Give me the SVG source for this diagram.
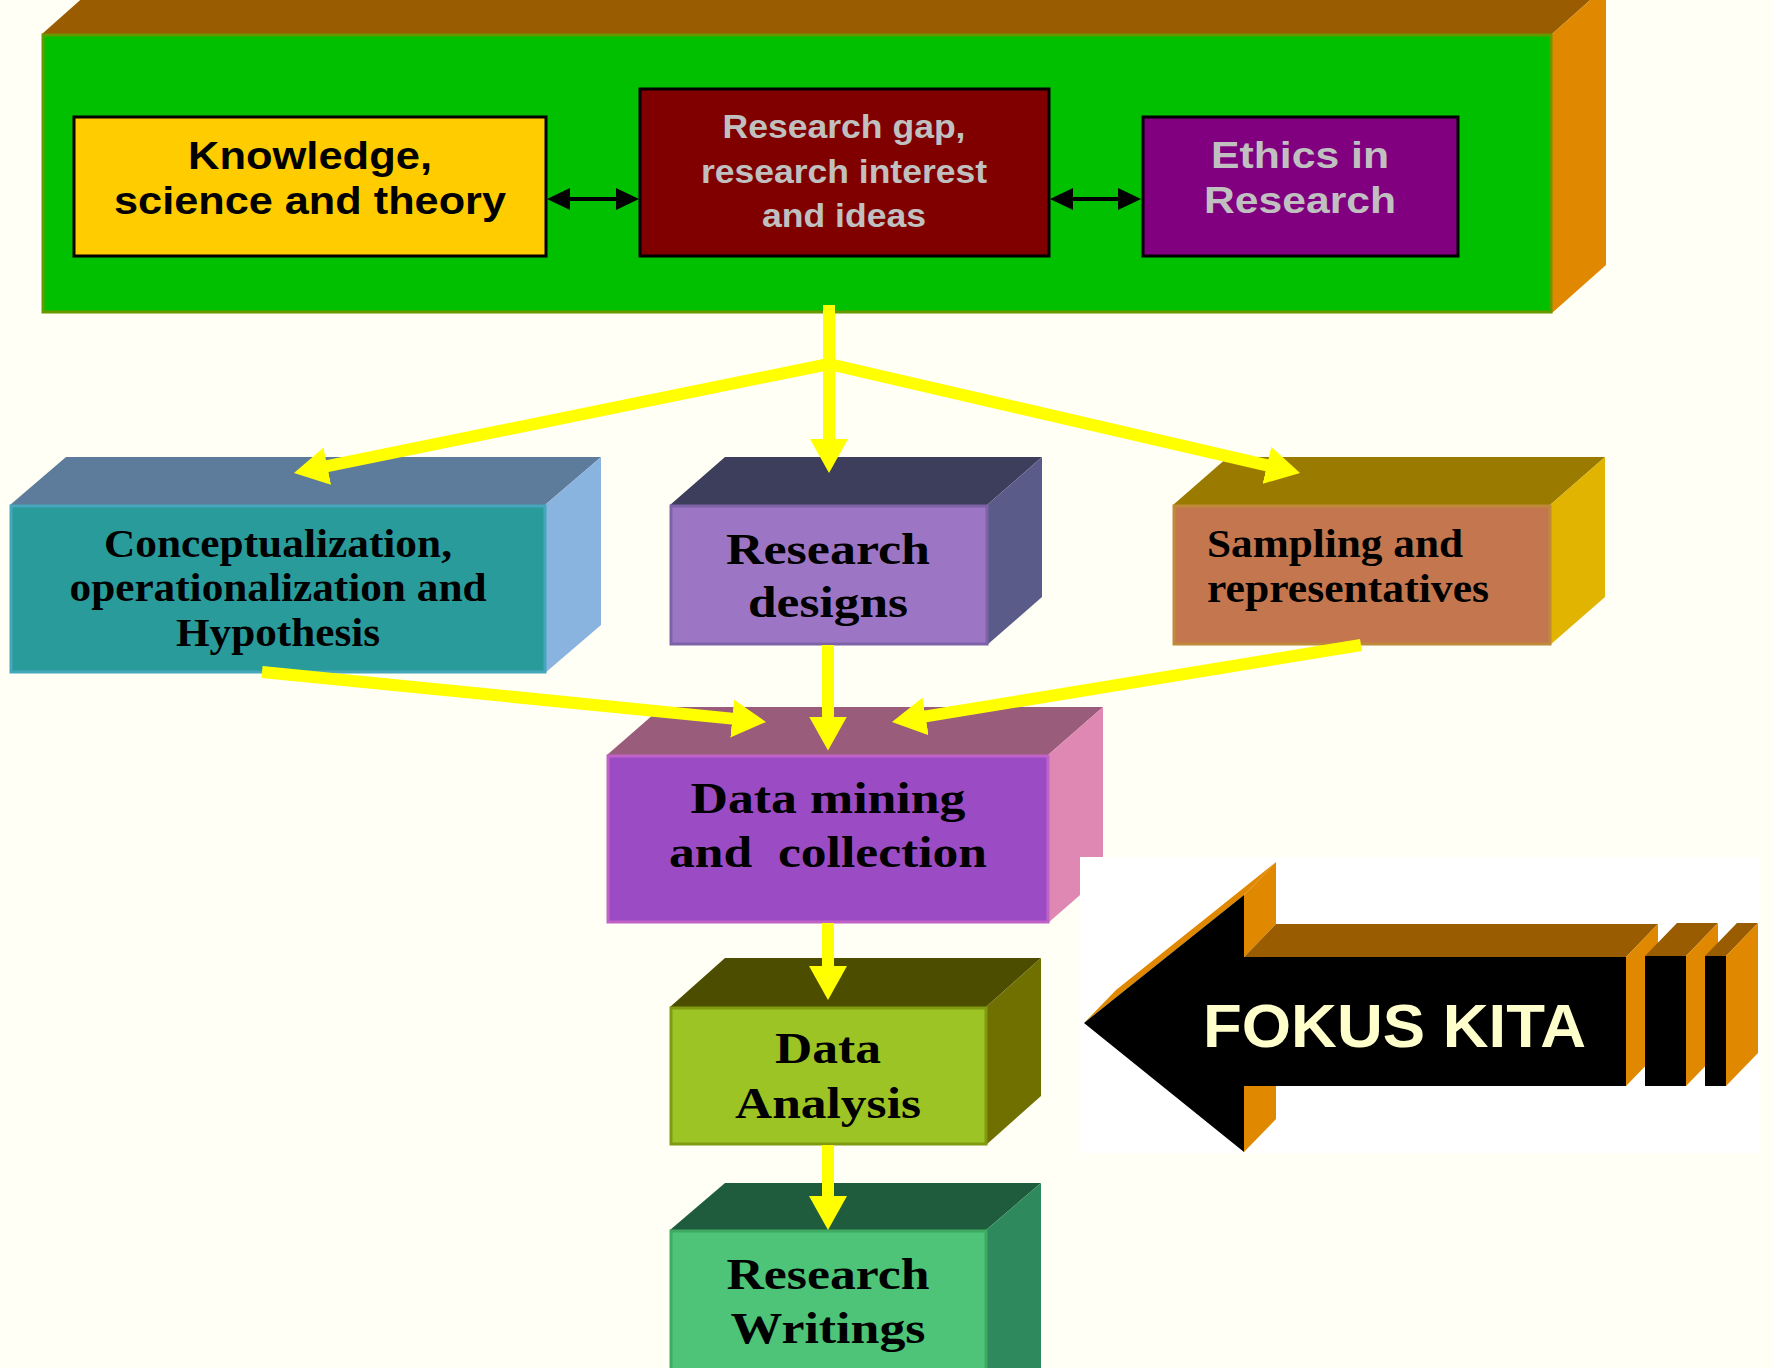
<svg xmlns="http://www.w3.org/2000/svg" width="1773" height="1368" viewBox="0 0 1773 1368">
<defs>
<style>
.sans{font-family:"Liberation Sans",Arial,sans-serif;font-weight:bold;text-anchor:middle}
.serif{font-family:"Liberation Serif","Times New Roman",serif;font-weight:bold;text-anchor:middle;fill:#000}
.yl{stroke:#FFFF00;stroke-width:12;fill:none;marker-end:url(#ya)}
.bl{stroke:#000;stroke-width:4;fill:none;marker-start:url(#bs);marker-end:url(#be)}
.inbox{stroke:#000;stroke-width:3}
</style>
<marker id="ya" viewBox="0 0 34 38" refX="20" refY="19" markerWidth="34" markerHeight="38" markerUnits="userSpaceOnUse" orient="auto"><path d="M0,0 L34,19 L0,38 z" fill="#FFFF00"/></marker>
<marker id="be" viewBox="0 0 23 22" refX="15" refY="11" markerWidth="23" markerHeight="22" markerUnits="userSpaceOnUse" orient="auto"><path d="M0,0 L23,11 L0,22 z" fill="#000"/></marker>
<marker id="bs" viewBox="0 0 23 22" refX="8" refY="11" markerWidth="23" markerHeight="22" markerUnits="userSpaceOnUse" orient="auto"><path d="M23,0 L0,11 L23,22 z" fill="#000"/></marker>
</defs>
<rect x="0" y="0" width="1773" height="1368" fill="#FFFFF5"/>

<g id="top-block">
<polygon points="42,34 96,-14 1606,-14 1552,34" fill="#9A5C00"/>
<polygon points="1552,34 1606,-14 1606,265 1552,313" fill="#E08800"/>
<rect x="43" y="35" width="1508" height="277" fill="#00C000" stroke="#669900" stroke-width="3"/>
</g>

<g id="knowledge">
<rect class="inbox" x="74" y="117" width="472" height="139" fill="#FFCC00"/>
<text class="sans" font-size="39" fill="#000"><tspan x="310" y="169" textLength="244" lengthAdjust="spacingAndGlyphs">Knowledge,</tspan><tspan x="310" y="214" textLength="392" lengthAdjust="spacingAndGlyphs">science and theory</tspan></text>
</g>

<g id="research-gap">
<rect class="inbox" x="640" y="89" width="409" height="167" fill="#800000"/>
<text class="sans" font-size="32.5" fill="#C0C0C0"><tspan x="844" y="138" textLength="243" lengthAdjust="spacingAndGlyphs">Research gap,</tspan><tspan x="844" y="183" textLength="286" lengthAdjust="spacingAndGlyphs">research interest</tspan><tspan x="844" y="227" textLength="164" lengthAdjust="spacingAndGlyphs">and ideas</tspan></text>
</g>

<g id="ethics">
<rect class="inbox" x="1143" y="117" width="315" height="139" fill="#800080"/>
<text class="sans" font-size="37.5" fill="#C0C0C0"><tspan x="1300" y="168" textLength="178" lengthAdjust="spacingAndGlyphs">Ethics in</tspan><tspan x="1300" y="213" textLength="192" lengthAdjust="spacingAndGlyphs">Research</tspan></text>
</g>

<g id="conceptualization">
<polygon points="10,505 66,457 601,457 545,505" fill="#5D7B9A"/>
<polygon points="545,505 601,457 601,625 545,673" fill="#8AB4E0"/>
<rect x="11" y="506" width="534" height="166" fill="#2A9B9B" stroke="#45A6BC" stroke-width="3"/>
<text class="serif" font-size="39"><tspan x="278" y="557" textLength="348" lengthAdjust="spacingAndGlyphs">Conceptualization,</tspan><tspan x="278" y="601" textLength="417" lengthAdjust="spacingAndGlyphs">operationalization and</tspan><tspan x="278" y="646" textLength="204" lengthAdjust="spacingAndGlyphs">Hypothesis</tspan></text>
</g>

<g id="research-designs">
<polygon points="670,505 725,457 1042,457 987,505" fill="#3D3D5C"/>
<polygon points="987,505 1042,457 1042,597 987,645" fill="#5B5B8A"/>
<rect x="671" y="506" width="316" height="138" fill="#9C76C4" stroke="#7E62A8" stroke-width="3"/>
<text class="serif" font-size="44"><tspan x="828" y="564" textLength="204" lengthAdjust="spacingAndGlyphs">Research</tspan><tspan x="828" y="617" textLength="160" lengthAdjust="spacingAndGlyphs">designs</tspan></text>
</g>

<g id="sampling">
<polygon points="1173,505 1228,457 1605,457 1550,505" fill="#9A7B00"/>
<polygon points="1550,505 1605,457 1605,597 1550,645" fill="#E0B400"/>
<rect x="1174" y="506" width="376" height="138" fill="#C4774E" stroke="#C08A3A" stroke-width="3"/>
<text class="serif" font-size="39" style="text-anchor:start"><tspan x="1207" y="557" textLength="256" lengthAdjust="spacingAndGlyphs">Sampling and</tspan><tspan x="1207" y="602" textLength="282" lengthAdjust="spacingAndGlyphs">representatives</tspan></text>
</g>

<g id="data-mining">
<polygon points="607,755 662,707 1103,707 1048,755" fill="#9A5C7B"/>
<polygon points="1048,755 1103,707 1103,875 1048,923" fill="#E088B4"/>
<rect x="608" y="756" width="440" height="166" fill="#9B4CC4" stroke="#C062C8" stroke-width="3"/>
<text class="serif" font-size="44" xml:space="preserve"><tspan x="828" y="813" textLength="275" lengthAdjust="spacingAndGlyphs">Data mining</tspan><tspan x="828" y="867" textLength="318" lengthAdjust="spacingAndGlyphs">and  collection</tspan></text>
</g>

<g id="data-analysis">
<polygon points="670,1007 725,958 1041,958 986,1007" fill="#4D4D00"/>
<polygon points="986,1007 1041,958 1041,1096 986,1145" fill="#707000"/>
<rect x="671" y="1008" width="315" height="136" fill="#9DC425" stroke="#7F9A10" stroke-width="3"/>
<text class="serif" font-size="44"><tspan x="828" y="1063" textLength="106" lengthAdjust="spacingAndGlyphs">Data</tspan><tspan x="828" y="1118" textLength="186" lengthAdjust="spacingAndGlyphs">Analysis</tspan></text>
</g>

<g id="research-writings">
<polygon points="670,1230 725,1183 1041,1183 986,1230" fill="#1F5C3D"/>
<polygon points="986,1230 1041,1183 1041,1380 986,1380" fill="#2E8A5C"/>
<rect x="671" y="1231" width="315" height="150" fill="#4DC478" stroke="#3EAA62" stroke-width="3"/>
<text class="serif" font-size="44"><tspan x="828" y="1289" textLength="203" lengthAdjust="spacingAndGlyphs">Research</tspan><tspan x="828" y="1343" textLength="195" lengthAdjust="spacingAndGlyphs">Writings</tspan></text>
</g>

<g id="fokus-kita">
<rect x="1080" y="857" width="680" height="296" fill="#FFFFFF"/>
<polygon points="1084,1023 1244,895 1276,862 1116,990" fill="#E08800"/>
<polygon points="1244,895 1276,862 1276,924 1244,957" fill="#E08800"/>
<polygon points="1244,957 1276,924 1658,924 1626,957" fill="#9A5C00"/>
<polygon points="1626,957 1658,924 1658,1053 1626,1086" fill="#E08800"/>
<polygon points="1244,1086 1276,1053 1276,1119 1244,1152" fill="#E08800"/>
<polygon points="1084,1023 1244,895 1244,957 1626,957 1626,1086 1244,1086 1244,1152" fill="#000"/>
<polygon points="1645,956 1677,923 1718,923 1686,956" fill="#9A5C00"/>
<polygon points="1686,956 1718,923 1718,1053 1686,1086" fill="#E08800"/>
<rect x="1645" y="956" width="41" height="130" fill="#000"/>
<polygon points="1705,956 1737,923 1758,923 1726,956" fill="#9A5C00"/>
<polygon points="1726,956 1758,923 1758,1053 1726,1086" fill="#E08800"/>
<rect x="1705" y="956" width="21" height="130" fill="#000"/>
<text class="sans" x="1203" y="1047" font-size="62" fill="#FFFFCC" style="text-anchor:start" textLength="383" lengthAdjust="spacingAndGlyphs">FOKUS KITA</text>
</g>

<g id="connectors">
<line class="bl" x1="555" y1="199" x2="631" y2="199"/>
<line class="bl" x1="1058" y1="199" x2="1133" y2="199"/>
<line x1="829" y1="305" x2="829" y2="366" stroke="#FFFF00" stroke-width="12"/>
<line class="yl" x1="829" y1="360" x2="829" y2="459"/>
<line class="yl" x1="829" y1="364" x2="307.7" y2="470.2"/>
<line class="yl" x1="829" y1="364" x2="1286.4" y2="469.8"/>
<line class="yl" x1="262" y1="672" x2="752.1" y2="720.6"/>
<line class="yl" x1="828" y1="645" x2="828" y2="736.5"/>
<line class="yl" x1="1361" y1="645" x2="905.8" y2="719.7"/>
<line class="yl" x1="828" y1="923" x2="828" y2="986"/>
<line class="yl" x1="828" y1="1145" x2="828" y2="1216"/>
</g>
</svg>
